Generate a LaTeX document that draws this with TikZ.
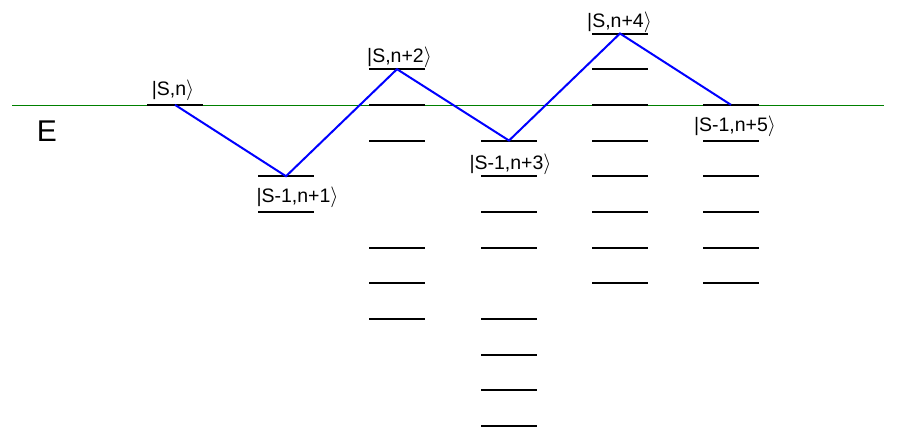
\documentclass[tikz,border=0pt]{standalone}
\usepackage{fontspec}
\setmainfont{Liberation Sans}
\begin{document}
\begin{tikzpicture}[x=1pt,y=-1pt,
  levelline/.style={line width=2pt, black},
  trans/.style={blue, line width=2pt, line join=miter},
  lbl/.style={font=\fontsize{19.5}{23}\selectfont, inner sep=0pt, anchor=base},
  eline/.style={draw=green!50!black, line width=0.8pt}]
\useasboundingbox (0,0) rectangle (898,431);
\coordinate (eL) at (12,105);
\coordinate (eR) at (884,105);
\draw[eline] (eL) -- (eR);
\node[font=\fontsize{30}{35}\selectfont, inner sep=0pt, anchor=base] (E) at (47,141) {E};
\foreach \c/\x/\ls in {1/175/{3}, 2/286/{5,6}, 3/397/{2,3,4,7,8,9}, 4/509/{4,5,6,7,9,10,11,12}, 5/620/{1,2,3,4,5,6,7,8}, 6/731/{3,4,5,6,7,8}}{
  \foreach \l in \ls {
    \pgfmathsetmacro{\yy}{33.5+(\l-1)*35.68}
    \coordinate (c\c-\l) at (\x,\yy);
    \draw[levelline] ([xshift=-28pt]c\c-\l) -- ([xshift=28pt]c\c-\l);
  }
}
\draw[trans] (c1-3) -- (c2-5) -- (c3-2) -- (c4-4) -- (c5-1) -- (c6-3);
\node[lbl] (l0) at (173,95) {|S,n$\rangle$};
\node[lbl] (l1) at (297.5,202.5) {|S-1,n+1$\rangle$};
\node[lbl] (l2) at (399.5,62.5) {|S,n+2$\rangle$};
\node[lbl] (l3) at (510.5,169) {|S-1,n+3$\rangle$};
\node[lbl] (l4) at (619.5,27.5) {|S,n+4$\rangle$};
\node[lbl] (l5) at (735,131) {|S-1,n+5$\rangle$};
\end{tikzpicture}
\end{document}
